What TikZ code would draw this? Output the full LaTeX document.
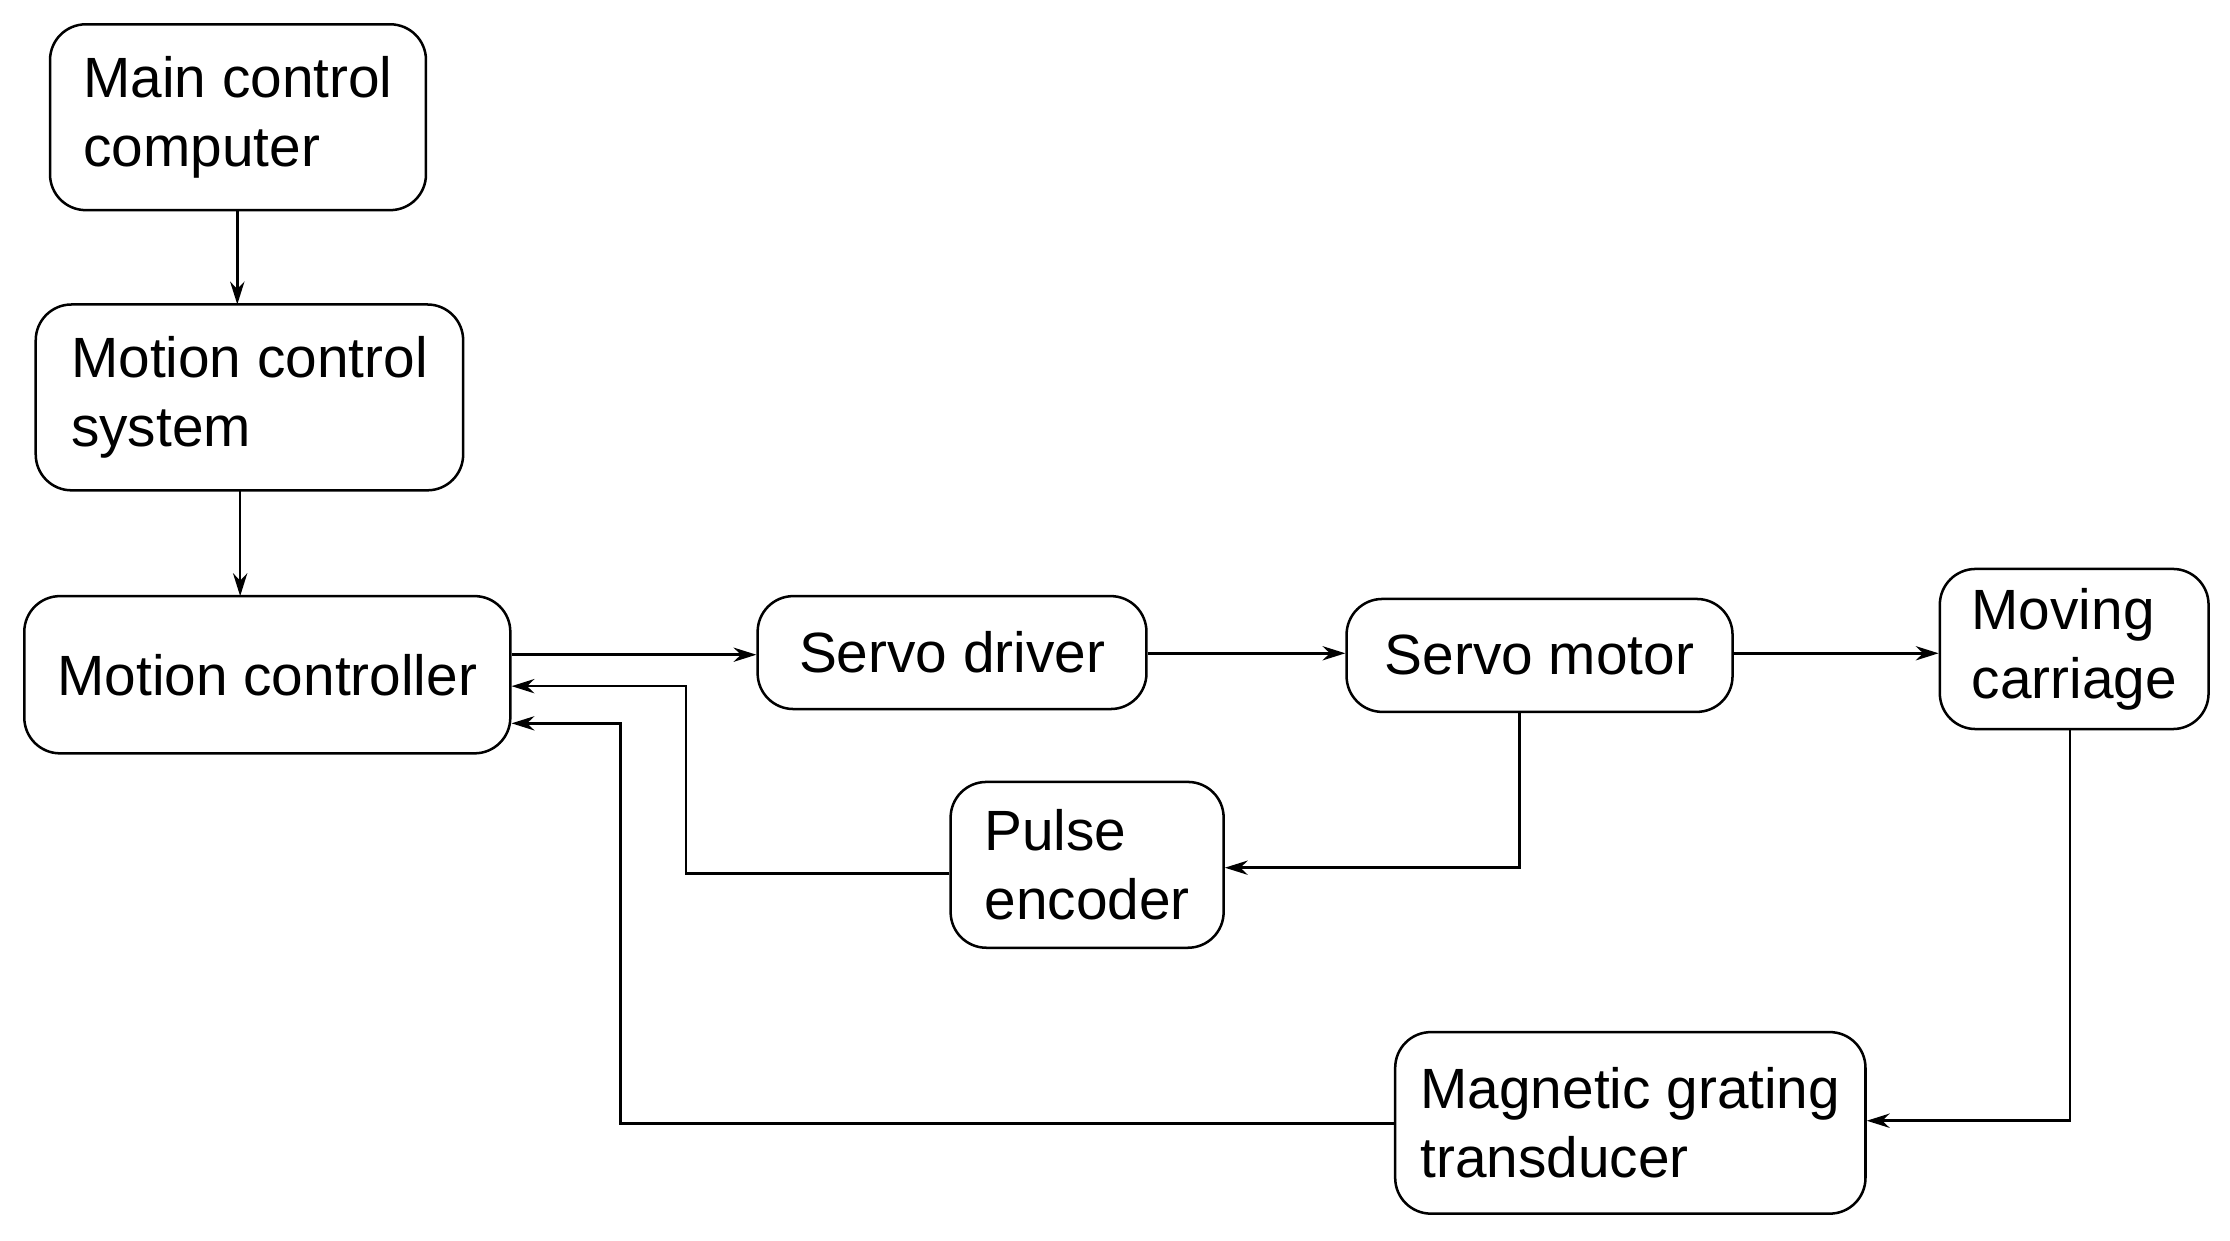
\documentclass[tikz,border=0pt]{standalone}
\usepackage{fontspec}
\setmainfont{Liberation Sans}
\usetikzlibrary{arrows.meta}
\begin{document}
\begin{tikzpicture}[x=0.1mm,y=-0.1mm,
 box/.style={draw,rounded corners=2.5mm,line width=0.5pt,inner sep=0pt,font=\fontsize{11.3}{13.7}\selectfont,align=left},
 arr/.style={-{Stealth[length=1.6mm,width=1mm]},line width=0.5pt}]
\useasboundingbox[fill=white] (0,0) rectangle (1560,868);
\node[box,minimum width=26.3mm,minimum height=13mm] (mcc) at (166.5,82) {Main control\\computer};
\node[box,minimum width=29.9mm,minimum height=13mm] (mcs) at (174.5,278) {Motion control\\system};
\node[box,minimum width=34mm,minimum height=11mm] (mc) at (187,472) {Motion controller};
\node[box,minimum width=27.2mm,minimum height=7.9mm] (sd) at (666,456.5) {Servo driver};
\node[box,minimum width=27mm,minimum height=7.9mm] (sm) at (1077,458.5) {Servo motor};
\node[box,minimum width=18.8mm,minimum height=11.2mm] (car) at (1451,454) {Moving\\carriage};
\node[box,minimum width=19.1mm,minimum height=11.6mm] (pe) at (760.5,605) {Pulse\\encoder};
\node[box,minimum width=32.9mm,minimum height=12.7mm] (mg) at (1140.5,785.5) {Magnetic grating\\transducer};
\draw[arr] (mcc.south -| 166,0) -- (166,213);
\draw[arr] (168,343) -- (168,417);
\draw[arr] (mc.east |- 0,458) -- (sd.west |- 0,458);
\draw[arr] (sd.east |- 0,457) -- (sm.west |- 0,457);
\draw[arr] (sm.east |- 0,457) -- (car.west |- 0,457);
\draw[arr] (sm.south -| 1063,0) -- (1063,607) -- (pe.east |- 0,607);
\draw[arr] (pe.west |- 0,611) -- (480,611) -- (480,480) -- (mc.east |- 0,480);
\draw[arr] (car.south -| 1448,0) -- (1448,784) -- (mg.east |- 0,784);
\draw[arr] (mg.west |- 0,786) -- (434,786) -- (434,506) -- (mc.east |- 0,506);
\end{tikzpicture}
\end{document}
